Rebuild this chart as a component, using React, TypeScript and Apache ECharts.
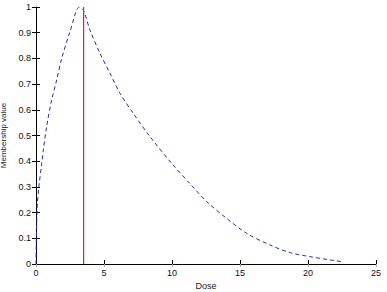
import React, { useEffect, useRef } from "react";
import * as echarts from "echarts";

const doseRise = [0, 0.02, 0.05, 0.1, 0.24, 0.42, 0.54, 0.78, 1.15, 1.52, 1.89, 2.5, 3.18];
const valueRise = [0, 0.09, 0.158, 0.236, 0.314, 0.39, 0.444, 0.534, 0.638, 0.716, 0.8, 0.904, 1.0];
const doseFall = [3.48, 3.97, 4.7, 5.44, 6.18, 7.15, 8.38, 10.0, 11.3, 12.55, 14.0, 15.5, 17.2, 18.7, 20.1, 21.6, 22.5];
const valueFall = [0.988, 0.91, 0.82, 0.742, 0.664, 0.586, 0.496, 0.39, 0.314, 0.243, 0.178, 0.119, 0.074, 0.044, 0.029, 0.016, 0.009];
const peakDose = 3.5;
const peakLine = [0, 1];
const xTicks = [0, 5, 10, 15, 20, 25];
const yTicks = [0, 0.1, 0.2, 0.3, 0.4, 0.5, 0.6, 0.7, 0.8, 0.9, 1];

export default function App() {
  const ref = useRef<HTMLDivElement>(null);
  useEffect(() => {
    if (!ref.current) return;
    const chart = echarts.init(ref.current, null, { renderer: "svg" });
    const curve = [
      ...doseRise.map((d, i) => [d, valueRise[i]]),
      ...doseFall.map((d, i) => [d, valueFall[i]]),
    ];
    const font = "Liberation Sans, Arial, sans-serif";
    const tickLabel = { fontSize: 9, color: "#111", fontFamily: font };
    chart.setOption({
      animation: false,
      backgroundColor: "#fff",
      grid: { left: 36, top: 7, right: 11, bottom: 28, containLabel: false, outerBoundsMode: "none" },
      xAxis: [
        {
          type: "value",
          min: 0,
          max: 25,
          interval: 5,
          name: "Dose",
          nameLocation: "middle",
          nameGap: 17,
          nameTextStyle: { fontSize: 9, color: "#222", fontFamily: font },
          axisLine: { show: true, lineStyle: { color: "#000", width: 1 } },
          axisTick: { show: true, inside: true, length: 4, lineStyle: { color: "#000" } },
          axisLabel: { ...tickLabel, margin: 4, formatter: (v: number) => (xTicks.includes(v) ? String(v) : "") },
          splitLine: { show: false },
        },
        {
          type: "value",
          position: "top",
          min: 0,
          max: 25,
          interval: 5,
          axisLine: { show: false },
          axisTick: { show: true, inside: true, length: 3, lineStyle: { color: "#aaa" } },
          axisLabel: { show: false },
          splitLine: { show: false },
        },
      ],
      yAxis: [
        {
          type: "value",
          min: 0,
          max: 1,
          interval: 0.1,
          name: "Membership value",
          nameLocation: "middle",
          nameGap: 22,
          nameTextStyle: { fontSize: 8, color: "#222", fontFamily: font },
          axisLine: { show: true, lineStyle: { color: "#000", width: 1 } },
          axisTick: { show: true, inside: true, length: 4, lineStyle: { color: "#000" } },
          axisLabel: {
            ...tickLabel,
            margin: 5,
            formatter: (v: number) => {
              const t = yTicks.find((y) => Math.abs(y - v) < 1e-6);
              return t === undefined ? "" : String(t);
            },
          },
          splitLine: { show: false },
        },
        {
          type: "value",
          position: "right",
          min: 0,
          max: 1,
          interval: 0.1,
          axisLine: { show: false },
          axisTick: { show: true, inside: true, length: 4, lineStyle: { color: "#000" } },
          axisLabel: { show: false },
          splitLine: { show: false },
        },
      ],
      series: [
        {
          type: "line",
          data: curve,
          showSymbol: false,
          smooth: 0.3,
          lineStyle: { color: "#2a2ab0", width: 1, type: [4, 3] },
        },
        {
          type: "line",
          data: peakLine.map((v) => [peakDose, v]),
          showSymbol: false,
          lineStyle: { color: "#e8211e", width: 1.2 },
        },
      ],
    });
    return () => chart.dispose();
  }, []);
  return (
    <div
      ref={ref}
      style={{ position: "fixed", left: 0, top: 0, width: 387, height: 292 }}
    />
  );
}
